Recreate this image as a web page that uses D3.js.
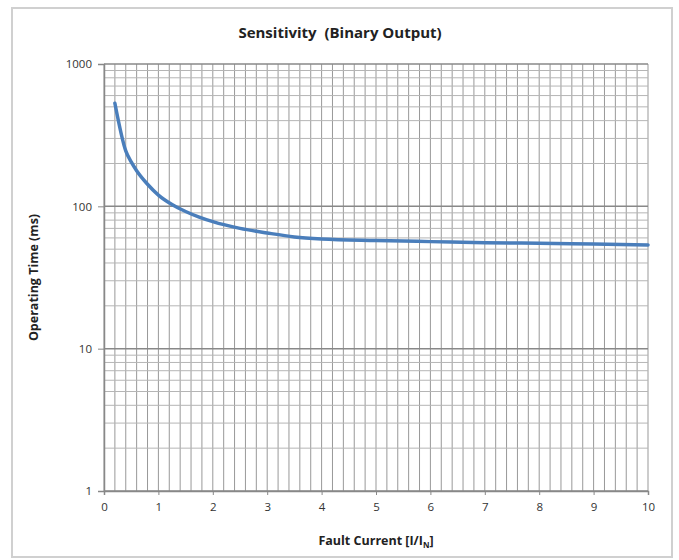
<!DOCTYPE html>
<html>
<head>
<meta charset="utf-8">
<script src="https://cdn.jsdelivr.net/npm/d3@7"></script>
<style>
  body { margin: 0; background: #fff; }
  svg { display: block; }
  text { font-family: "Open Sans", "Liberation Sans", sans-serif; }
</style>
</head>
<body>
<svg width="679" height="560"></svg>
<script>
// Curve
const faultCurrent = [0.2, 0.4, 0.5, 0.6, 0.8, 1, 1.25, 1.5, 1.75, 2, 2.5, 3, 3.5, 4, 5, 6, 7, 8, 9, 10];
const operatingTime = [530, 245, 205, 178, 143, 120, 103, 92, 84, 78, 70, 65, 61, 59, 57.5, 56.5, 55.5, 55, 54.3, 53.6];

const xTicks = [0, 1, 2, 3, 4, 5, 6, 7, 8, 9, 10];
const yTicks = [1, 10, 100, 1000];

let svg = d3.select("svg");

// outer chart frame
svg.append("rect")
  .attr("x", 12).attr("y", 8)
  .attr("width", 660).attr("height", 549)
  .attr("fill", "#fff")
  .attr("stroke", "#d0d0d0")
  .attr("stroke-width", 2);

let x = d3.scaleLinear().domain([0, 10]).range([104, 648]);
let y = d3.scaleLog().domain([1, 1000]).range([491, 64]);

// minor grid (vertical every 0.2, horizontal 2..9 per decade)
let vMinor = d3.range(0, 10.001, 0.2).map(v => +v.toFixed(1));
let hMinor = [];
[1, 10, 100].forEach(d => { for (let k = 2; k <= 9; k++) hMinor.push(d * k); });

let grid = svg.append("g");
grid.selectAll(".vx")
  .data(vMinor)
  .enter().append("line")
  .attr("x1", d => x(d)).attr("x2", d => x(d))
  .attr("y1", y(1000)).attr("y2", y(1))
  .attr("stroke", "#999").attr("stroke-width", 1);

grid.selectAll(".hy")
  .data(hMinor)
  .enter().append("line")
  .attr("x1", x(0)).attr("x2", x(10))
  .attr("y1", d => y(d)).attr("y2", d => y(d))
  .attr("stroke", "#b5b5b5").attr("stroke-width", 1);

grid.selectAll(".hmaj")
  .data(yTicks)
  .enter().append("line")
  .attr("x1", x(0)).attr("x2", x(10))
  .attr("y1", d => y(d)).attr("y2", d => y(d))
  .attr("stroke", "#888").attr("stroke-width", 1.5);

// axes
let xAxis = d3.axisBottom(x).tickValues(xTicks).tickSize(4).tickPadding(8).tickFormat(d3.format("d"));
let yAxis = d3.axisLeft(y).tickValues(yTicks).tickSize(6).tickPadding(6).tickFormat(d3.format("d"));

let gx = svg.append("g")
  .attr("transform", `translate(0, ${y(1)})`)
  .call(xAxis);
let gy = svg.append("g")
  .attr("transform", `translate(${x(0)}, 0)`)
  .call(yAxis);

[gx, gy].forEach(g => {
  g.select(".domain").attr("stroke", "#888").attr("stroke-width", 1.5);
  g.selectAll(".tick line").attr("stroke", "#888");
  g.selectAll(".tick text").attr("fill", "#333").style("font-size", "11.5px");
});

// the curve
let pts = faultCurrent.map((v, i) => [v, operatingTime[i]]);
let line = d3.line()
  .x(d => x(d[0]))
  .y(d => y(d[1]))
  .curve(d3.curveMonotoneX);

svg.append("path")
  .datum(pts)
  .attr("d", line)
  .attr("fill", "none")
  .attr("stroke", "#4a7ebb")
  .attr("stroke-width", 3.5)
  .attr("stroke-linecap", "round");

// titles
svg.append("text")
  .attr("x", 340).attr("y", 38)
  .attr("text-anchor", "middle")
  .style("font-size", "15px").style("font-weight", "bold")
  .style("white-space", "pre")
  .attr("fill", "#222")
  .text("Sensitivity  (Binary Output)");

svg.append("text")
  .attr("transform", `translate(38, ${(y(1) + y(1000)) / 2}) rotate(-90)`)
  .attr("text-anchor", "middle")
  .style("font-size", "12.5px").style("font-weight", "bold")
  .attr("fill", "#222")
  .text("Operating Time (ms)");

let xt = svg.append("text")
  .attr("x", 376).attr("y", 545)
  .attr("text-anchor", "middle")
  .style("font-size", "12.5px").style("font-weight", "bold")
  .attr("fill", "#222");
xt.append("tspan").text("Fault Current [I/I");
xt.append("tspan").attr("dy", 3).style("font-size", "8px").text("N");
xt.append("tspan").attr("dy", -3).text("]");
</script>
</body>
</html>
